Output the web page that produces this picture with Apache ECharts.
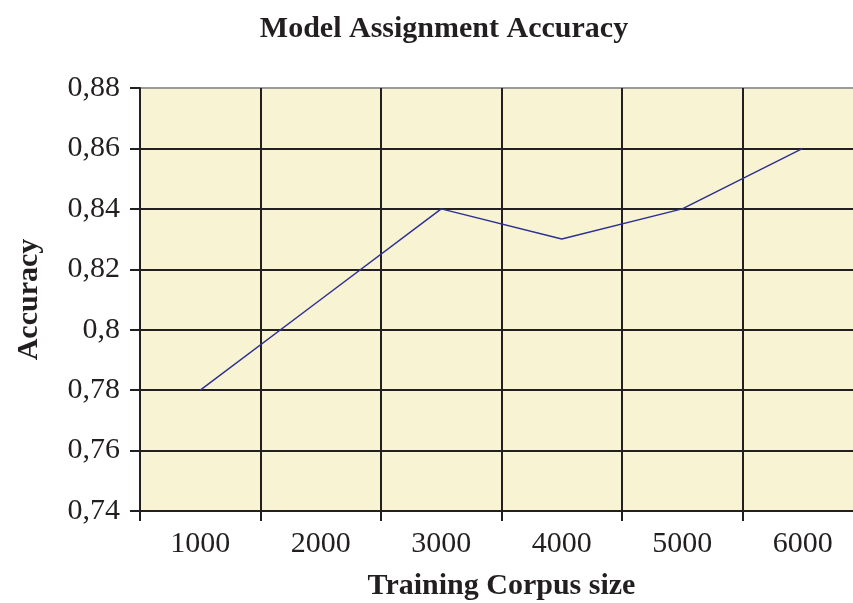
<!DOCTYPE html>
<html>
<head>
<meta charset="utf-8">
<script src="https://cdn.jsdelivr.net/npm/echarts@6/dist/echarts.min.js"></script>
<style>
  html, body { margin: 0; padding: 0; background: #fff; overflow: hidden; }
  #chart { width: 863px; height: 603px; }
</style>
</head>
<body>
<div id="chart"></div>
<script>
// corpus sizes and measured accuracy
const corpusSizes = ["1000", "2000", "3000", "4000", "5000", "6000"];
const accuracy = [0.78, 0.81, 0.84, 0.83, 0.84, 0.86];
const yMin = 0.74;
const yMax = 0.88;
const yStep = 0.02;

const font = "Liberation Serif";
const ink = "#231f20";

// the plot runs past the right edge of the window, so the canvas is a bit wider
const myChart = echarts.init(document.getElementById("chart"));

const option = {
  backgroundColor: "#ffffff",
  animation: false,
  title: {
    text: "Model Assignment Accuracy",
    left: 439,
    textAlign: "center",
    top: 9,
    textStyle: { fontFamily: font, fontWeight: "bold", fontSize: 30, color: ink }
  },
  grid: {
    left: 140,
    right: 0,
    top: 88,
    bottom: 92,
    outerBoundsMode: "none",
    show: true,
    backgroundColor: "#f8f3d3",
    borderWidth: 0
  },
  xAxis: {
    type: "category",
    data: corpusSizes,
    boundaryGap: true,
    name: "Training Corpus size",
    nameLocation: "middle",
    nameGap: 60,
    nameTextStyle: { fontFamily: font, fontWeight: "bold", fontSize: 30, color: ink },
    axisLine: { lineStyle: { color: ink, width: 2 } },
    axisTick: { show: true, length: 10, lineStyle: { color: ink, width: 2 } },
    axisLabel: { fontFamily: font, fontSize: 30, color: ink, margin: 18 },
    splitLine: { show: true, lineStyle: { color: ink, width: 2 } }
  },
  yAxis: {
    type: "value",
    min: yMin,
    max: yMax,
    interval: yStep,
    name: "Accuracy",
    nameLocation: "middle",
    nameGap: 96,
    nameTextStyle: { fontFamily: font, fontWeight: "bold", fontSize: 30, color: ink },
    axisLine: { show: true, lineStyle: { color: ink, width: 2 } },
    axisTick: { show: true, length: 10, lineStyle: { color: ink, width: 2 } },
    axisLabel: {
      fontFamily: font,
      fontSize: 30,
      color: ink,
      margin: 20,
      formatter: function (v) {
        return String(parseFloat(v.toFixed(2))).replace(".", ",");
      }
    },
    splitLine: {
      show: true,
      lineStyle: { color: [ink, ink, ink, ink, ink, ink, ink, "#9a9a9a"], width: 2 }
    }
  },
  series: [
    {
      type: "line",
      data: accuracy,
      symbol: "none",
      lineStyle: { color: "#2e3192", width: 1.5 }
    }
  ]
};

myChart.setOption(option);
</script>
</body>
</html>
